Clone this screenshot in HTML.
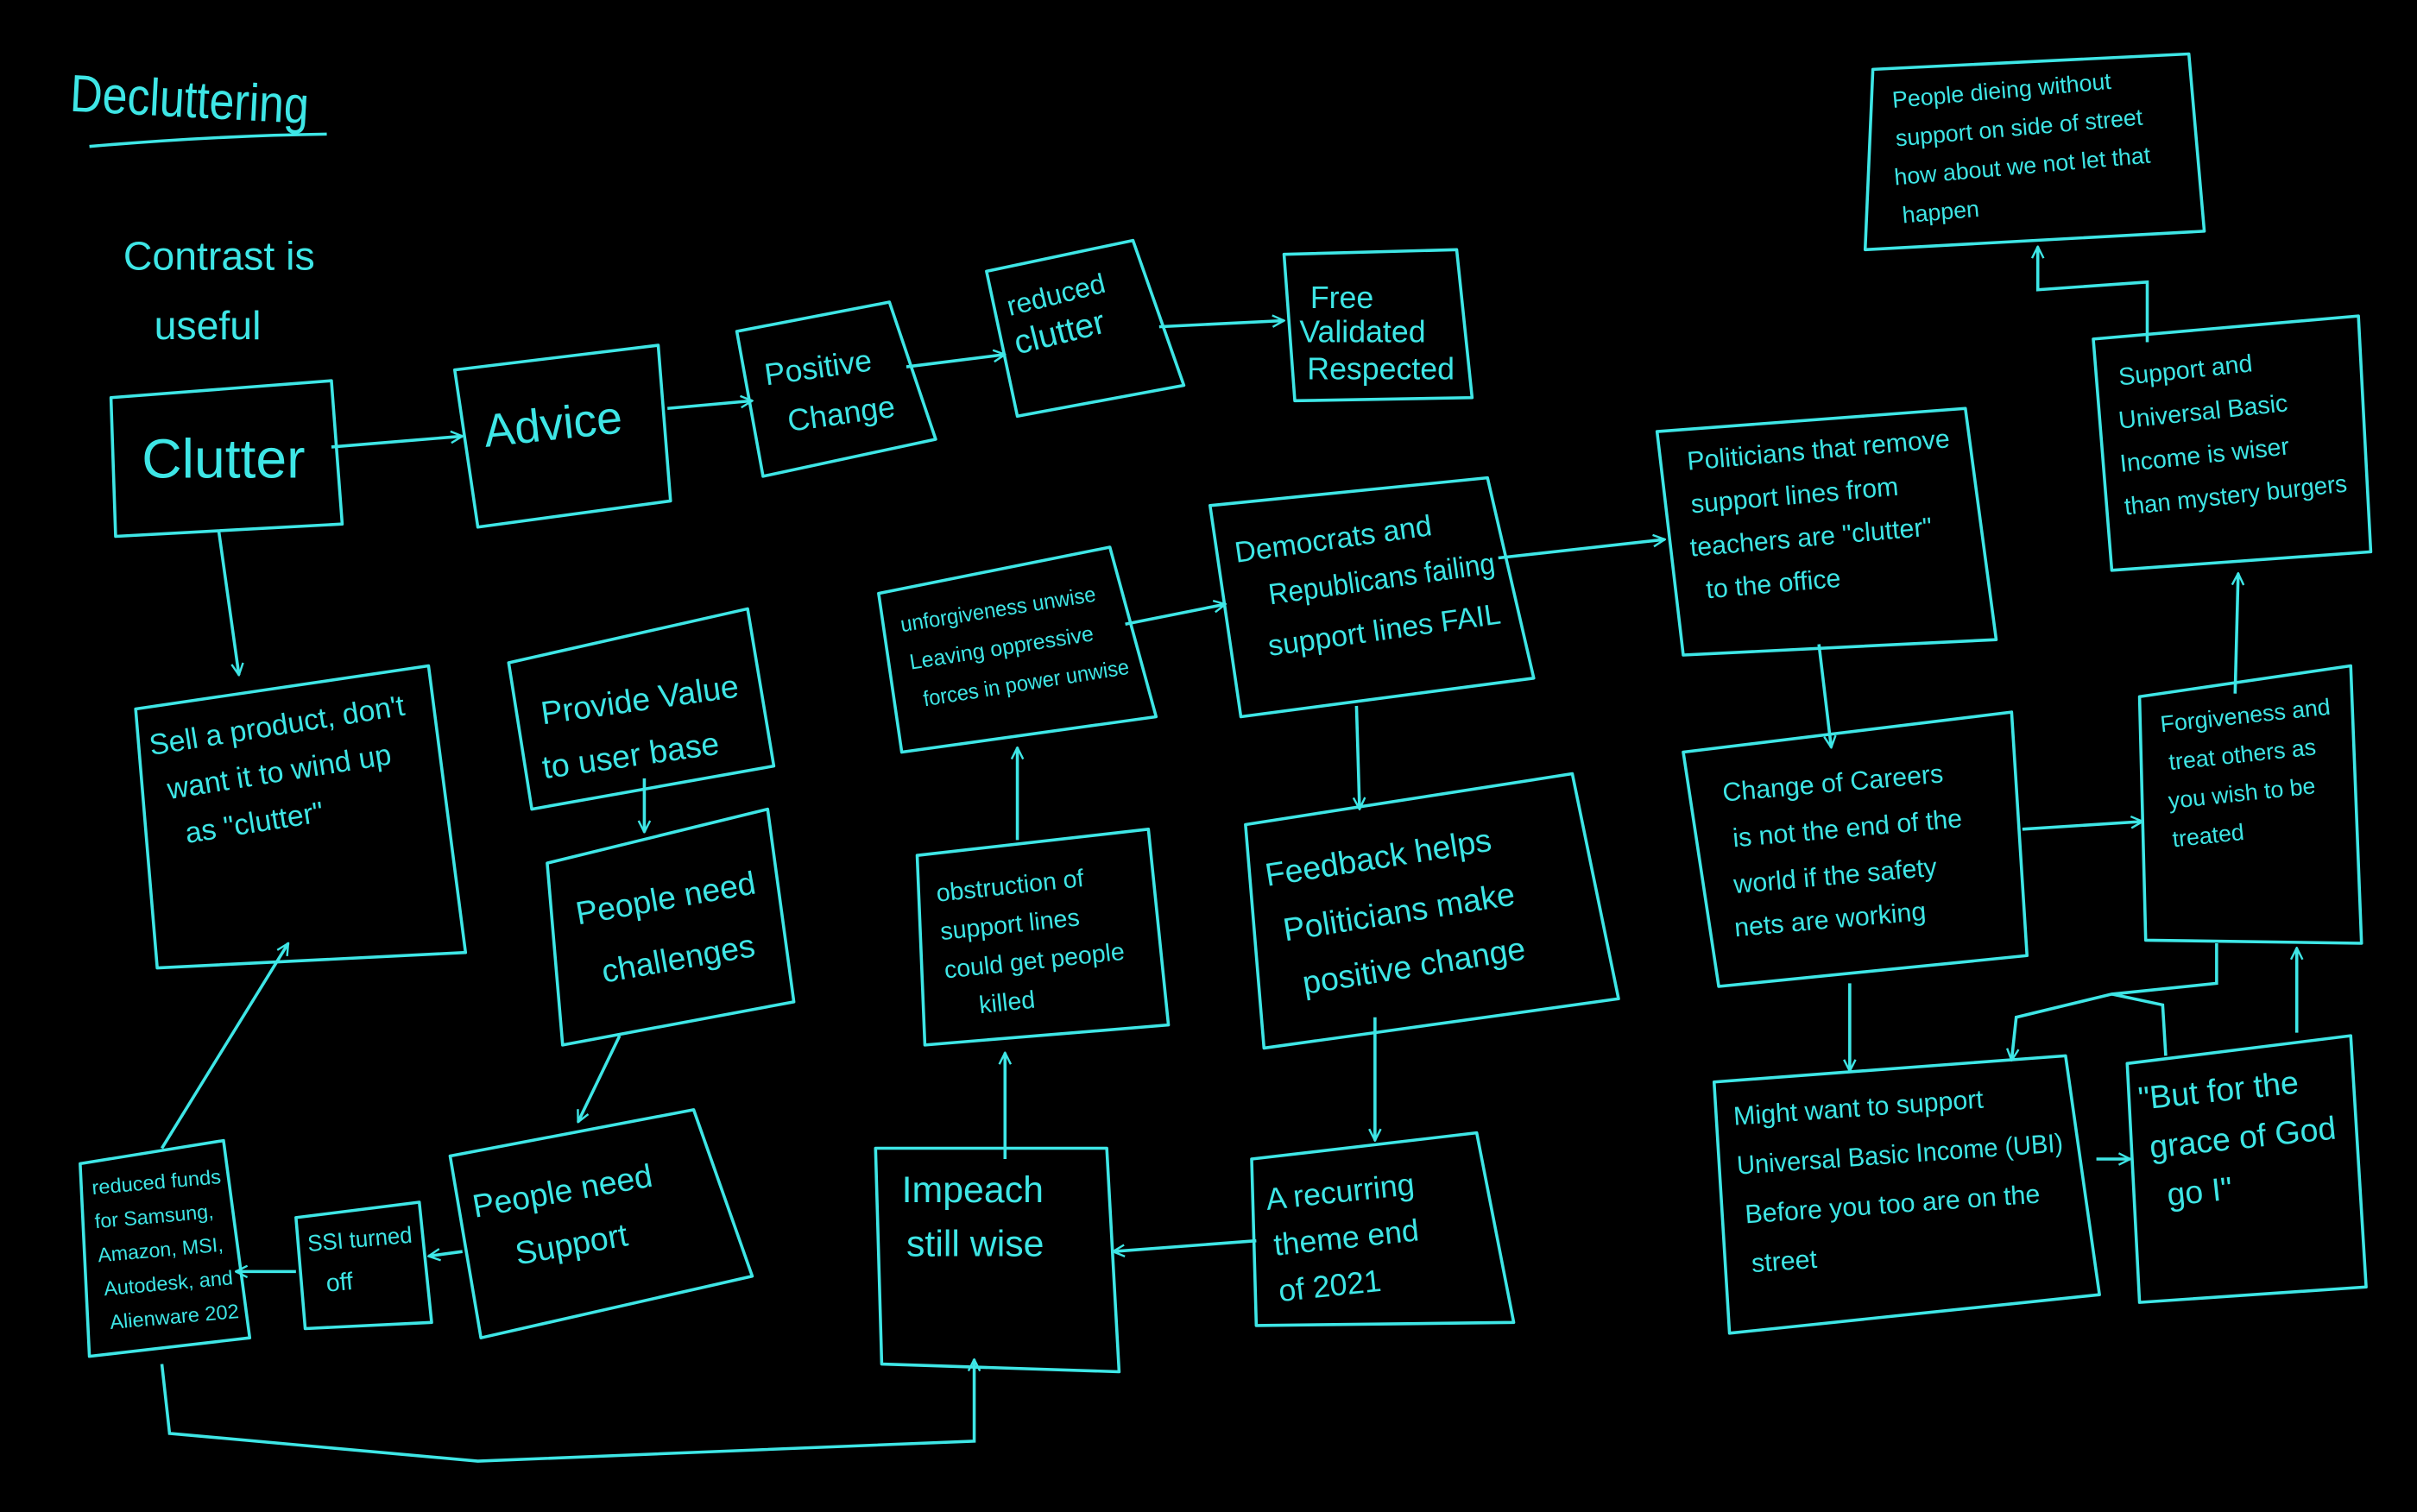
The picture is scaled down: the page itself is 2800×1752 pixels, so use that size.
<!DOCTYPE html>
<html><head><meta charset="utf-8"><style>
html,body{margin:0;padding:0;background:#000;width:2800px;height:1752px;overflow:hidden}
svg{display:block}
text{font-family:"Liberation Sans",sans-serif;fill:#3ee6e6}
</style></head><body>
<svg width="2800" height="1752" viewBox="0 0 1568 981" preserveAspectRatio="none" xmlns="http://www.w3.org/2000/svg">
<rect width="1568" height="981" fill="#000"/>
<defs><marker id="a" viewBox="0 0 12 12" refX="11" refY="6" markerWidth="9" markerHeight="9" orient="auto" markerUnits="userSpaceOnUse"><path d="M1 1 L11 6 L1 11" fill="none" stroke="#3ee6e6" stroke-width="1.8"/></marker></defs>
<g fill="none" stroke="#3ee6e6" stroke-width="2" stroke-linejoin="round">
<polygon points="72,258 215,247 222,340 75,348"/>
<polygon points="295,240 427,224 435,325 310,342"/>
<polygon points="478,215 577,196 607,285 495,309"/>
<polygon points="640,176 735,156 768,250 660,270"/>
<polygon points="833,165 945,162 955,258 840,260"/>
<polygon points="1215,45 1420,35 1430,150 1210,162"/>
<polygon points="1358,220 1530,205 1538,358 1370,370"/>
<polygon points="1075,280 1275,265 1295,415 1092,425"/>
<polygon points="785,328 965,310 995,440 805,465"/>
<polygon points="570,385 720,355 750,465 585,488"/>
<polygon points="88,460 278,432 302,618 102,628"/>
<polygon points="330,430 485,395 502,497 345,525"/>
<polygon points="355,560 498,525 515,650 365,678"/>
<polygon points="595,555 745,538 758,665 600,678"/>
<polygon points="808,535 1020,502 1050,648 820,680"/>
<polygon points="1092,488 1305,462 1315,620 1115,640"/>
<polygon points="1388,452 1525,432 1532,612 1392,610"/>
<polygon points="1112,702 1340,685 1362,840 1122,865"/>
<polygon points="1380,690 1525,672 1535,835 1388,845"/>
<polygon points="52,755 145,740 162,868 58,880"/>
<polygon points="192,790 272,780 280,858 198,862"/>
<polygon points="292,750 450,720 488,828 312,868"/>
<polygon points="568,745 718,745 726,890 572,885"/>
<polygon points="812,752 958,735 982,858 815,860"/>
<path d="M58,95 Q140,88 212,87"/>
</g>
<g fill="none" stroke="#3ee6e6" stroke-width="2" marker-end="url(#a)">
<path d="M215,290 L300,283"/>
<path d="M433,265 L488,260"/>
<path d="M588,238 L652,230"/>
<path d="M752,212 L833,208"/>
<path d="M142,345 L155,438"/>
<path d="M418,505 L418,540"/>
<path d="M402,672 L375,728"/>
<path d="M300,812 L278,815"/>
<path d="M192,825 L153,825"/>
<path d="M105,745 L187,612"/>
<path d="M105,885 L110,930 L310,948 L632,935 L632,882"/>
<path d="M652,752 L652,683"/>
<path d="M660,545 L660,485"/>
<path d="M730,405 L795,392"/>
<path d="M972,362 L1080,350"/>
<path d="M880,458 L882,525"/>
<path d="M892,660 L892,740"/>
<path d="M815,805 L722,812"/>
<path d="M1180,418 L1188,485"/>
<path d="M1312,538 L1390,533"/>
<path d="M1200,638 L1200,695"/>
<path d="M1438,612 L1438,638 L1370,645 L1308,660 L1305,688"/>
<path d="M1360,752 L1382,752"/>
<path d="M1490,670 L1490,615"/>
<path d="M1450,450 L1452,372"/>
<path d="M1393,222 L1393,183 L1322,188 L1322,160"/>
</g>
<path d="M1370,645 L1403,652 L1405,685" fill="none" stroke="#3ee6e6" stroke-width="2"/>
<text x="45" y="72" font-size="34" textLength="155" lengthAdjust="spacingAndGlyphs" transform="rotate(3 45 72)">Decluttering</text>
<text x="80" y="175" font-size="26">Contrast is</text>
<text x="100" y="220" font-size="26">useful</text>
<text x="92" y="310" font-size="36">Clutter</text>
<text x="315" y="290" font-size="30" transform="rotate(-6 315 290)">Advice</text>
<text x="497" y="250" font-size="20" transform="rotate(-8 497 250)">Positive</text>
<text x="512" y="280" font-size="20" transform="rotate(-8 512 280)">Change</text>
<text x="655" y="205" font-size="18" transform="rotate(-14 655 205)">reduced</text>
<text x="660" y="230" font-size="22" transform="rotate(-14 660 230)">clutter</text>
<text x="850" y="200" font-size="20">Free</text>
<text x="843" y="222" font-size="20">Validated</text>
<text x="848" y="246" font-size="20">Respected</text>
<g font-size="15" transform="rotate(-5 1228 70)">
<text x="1228" y="70">People dieing without</text>
<text x="1228" y="95">support on side of street</text>
<text x="1225" y="120">how about we not let that</text>
<text x="1228" y="145">happen</text></g>
<g font-size="16" transform="rotate(-6 1375 250)">
<text x="1375" y="250">Support and</text>
<text x="1372" y="278">Universal Basic</text>
<text x="1370" y="306">Income is wiser</text>
<text x="1370" y="334" textLength="145" lengthAdjust="spacingAndGlyphs">than mystery burgers</text></g>
<g font-size="17" transform="rotate(-5 1095 305)">
<text x="1095" y="305">Politicians that remove</text>
<text x="1095" y="333">support lines from</text>
<text x="1092" y="361">teachers are "clutter"</text>
<text x="1100" y="389">to the office</text></g>
<g font-size="19" transform="rotate(-8 802 365)">
<text x="802" y="365">Democrats and</text>
<text x="820" y="395" textLength="148" lengthAdjust="spacingAndGlyphs">Republicans failing</text>
<text x="815" y="428">support lines FAIL</text></g>
<g font-size="14" transform="rotate(-9 585 410)">
<text x="585" y="410" textLength="128" lengthAdjust="spacingAndGlyphs">unforgiveness unwise</text>
<text x="587" y="435">Leaving oppressive</text>
<text x="592" y="460" textLength="135" lengthAdjust="spacingAndGlyphs">forces in power  unwise</text></g>
<g font-size="19" transform="rotate(-9 98 490)">
<text x="98" y="490">Sell a product, don't</text>
<text x="105" y="520">want it to wind up</text>
<text x="112" y="550">as "clutter"</text></g>
<g font-size="21" transform="rotate(-8 352 470)">
<text x="352" y="470">Provide Value</text>
<text x="348" y="505">to user base</text></g>
<g font-size="21" transform="rotate(-10 375 600)">
<text x="375" y="600">People need</text>
<text x="385" y="640">challenges</text></g>
<g font-size="16" transform="rotate(-6 608 585)">
<text x="608" y="585">obstruction of</text>
<text x="608" y="610">support lines</text>
<text x="608" y="635">could get people</text>
<text x="628" y="660">killed</text></g>
<g font-size="21" transform="rotate(-9 822 575)">
<text x="822" y="575">Feedback helps</text>
<text x="828" y="612">Politicians make</text>
<text x="835" y="648">positive change</text></g>
<g font-size="17" transform="rotate(-5 1118 520)">
<text x="1118" y="520">Change of Careers</text>
<text x="1122" y="550">is not the end of the</text>
<text x="1120" y="580">world if the safety</text>
<text x="1118" y="608">nets are working</text></g>
<g font-size="15" transform="rotate(-6 1402 475)">
<text x="1402" y="475">Forgiveness and</text>
<text x="1405" y="500">treat others as</text>
<text x="1402" y="525">you wish to be</text>
<text x="1402" y="550">treated</text></g>
<g font-size="17" transform="rotate(-4 1125 730)">
<text x="1125" y="730">Might want to support</text>
<text x="1125" y="762" textLength="212" lengthAdjust="spacingAndGlyphs">Universal Basic Income (UBI)</text>
<text x="1128" y="794">Before you too are on the</text>
<text x="1130" y="826">street</text></g>
<g font-size="21" transform="rotate(-6 1388 720)">
<text x="1388" y="720">"But for the</text>
<text x="1392" y="752">grace of God</text>
<text x="1400" y="784">go I"</text></g>
<g font-size="13" transform="rotate(-5 60 775)">
<text x="60" y="775" textLength="84" lengthAdjust="spacingAndGlyphs">reduced funds</text>
<text x="60" y="797">for Samsung,</text>
<text x="60" y="819">Amazon, MSI,</text>
<text x="62" y="841" textLength="84" lengthAdjust="spacingAndGlyphs">Autodesk, and</text>
<text x="64" y="863" textLength="84" lengthAdjust="spacingAndGlyphs">Alienware 202</text></g>
<text x="200" y="812" font-size="15" textLength="68" lengthAdjust="spacingAndGlyphs" transform="rotate(-5 200 812)">SSI turned</text>
<text x="212" y="838" font-size="16" transform="rotate(-5 212 838)">off</text>
<g font-size="21" transform="rotate(-10 308 790)">
<text x="308" y="790">People need</text>
<text x="330" y="825">Support</text></g>
<text x="585" y="780" font-size="24">Impeach</text>
<text x="588" y="815" font-size="24">still wise</text>
<g font-size="20" transform="rotate(-6 822 785)">
<text x="822" y="785">A recurring</text>
<text x="824" y="815">theme end</text>
<text x="824" y="845">of 2021</text></g>
</svg>
</body></html>
